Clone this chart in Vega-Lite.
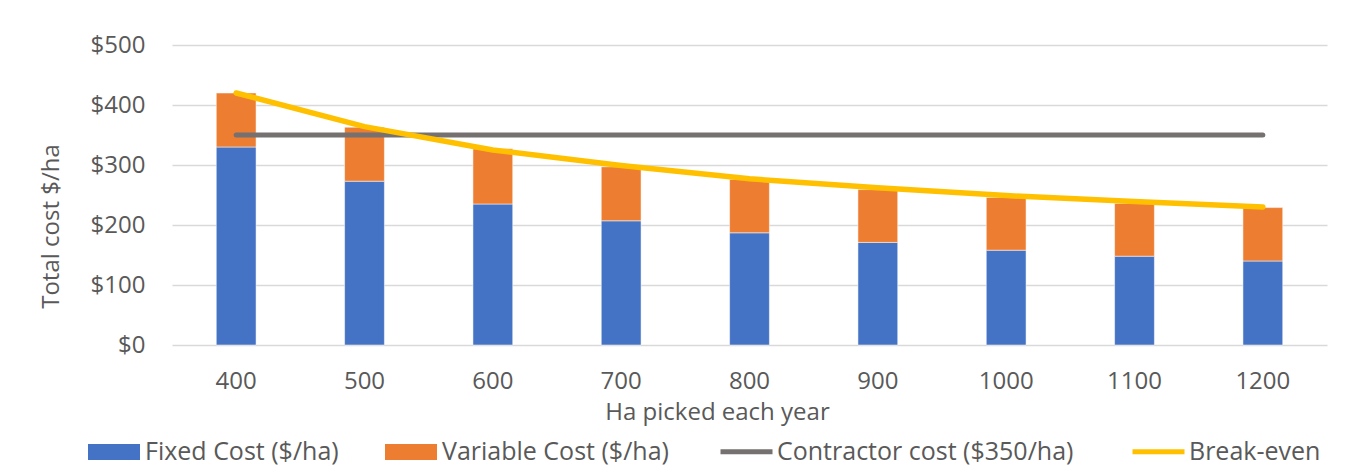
{
  "$schema": "https://vega.github.io/schema/vega-lite/v6.json",
  "width": 1155,
  "height": 300,
  "autosize": {"type": "none"},
  "padding": {"left": 172, "top": 45, "right": 43, "bottom": 131},
  "background": "white",
  "config": {
    "view": {"stroke": null},
    "font": "Open Sans",
    "axis": {
      "labelFont": "Open Sans",
      "titleFont": "Open Sans",
      "labelFontSize": 24,
      "titleFontSize": 24,
      "labelColor": "#595959",
      "titleColor": "#595959",
      "titleFontWeight": "normal",
      "ticks": false,
      "domain": false
    },
    "legend": {
      "labelFont": "Open Sans",
      "labelFontSize": 25,
      "labelColor": "#595959",
      "labelLimit": 0,
      "labelOffset": 5,
      "padding": 0,
      "orient": "none",
      "direction": "horizontal"
    }
  },
  "datasets": {
    "costs": [
      {"ha": 400, "component": "Fixed Cost ($/ha)", "cost": 330},
      {"ha": 400, "component": "Variable Cost ($/ha)", "cost": 90},
      {"ha": 500, "component": "Fixed Cost ($/ha)", "cost": 273},
      {"ha": 500, "component": "Variable Cost ($/ha)", "cost": 90},
      {"ha": 600, "component": "Fixed Cost ($/ha)", "cost": 235},
      {"ha": 600, "component": "Variable Cost ($/ha)", "cost": 92},
      {"ha": 700, "component": "Fixed Cost ($/ha)", "cost": 207},
      {"ha": 700, "component": "Variable Cost ($/ha)", "cost": 90},
      {"ha": 800, "component": "Fixed Cost ($/ha)", "cost": 187},
      {"ha": 800, "component": "Variable Cost ($/ha)", "cost": 89},
      {"ha": 900, "component": "Fixed Cost ($/ha)", "cost": 171},
      {"ha": 900, "component": "Variable Cost ($/ha)", "cost": 88},
      {"ha": 1000, "component": "Fixed Cost ($/ha)", "cost": 158},
      {"ha": 1000, "component": "Variable Cost ($/ha)", "cost": 88},
      {"ha": 1100, "component": "Fixed Cost ($/ha)", "cost": 148},
      {"ha": 1100, "component": "Variable Cost ($/ha)", "cost": 88},
      {"ha": 1200, "component": "Fixed Cost ($/ha)", "cost": 140},
      {"ha": 1200, "component": "Variable Cost ($/ha)", "cost": 89}
    ],
    "lines": [
      {"ha": 400, "series": "Contractor cost ($350/ha)", "value": 350},
      {"ha": 500, "series": "Contractor cost ($350/ha)", "value": 350},
      {"ha": 600, "series": "Contractor cost ($350/ha)", "value": 350},
      {"ha": 700, "series": "Contractor cost ($350/ha)", "value": 350},
      {"ha": 800, "series": "Contractor cost ($350/ha)", "value": 350},
      {"ha": 900, "series": "Contractor cost ($350/ha)", "value": 350},
      {"ha": 1000, "series": "Contractor cost ($350/ha)", "value": 350},
      {"ha": 1100, "series": "Contractor cost ($350/ha)", "value": 350},
      {"ha": 1200, "series": "Contractor cost ($350/ha)", "value": 350},
      {"ha": 400, "series": "Break-even", "value": 420},
      {"ha": 500, "series": "Break-even", "value": 364},
      {"ha": 600, "series": "Break-even", "value": 325},
      {"ha": 700, "series": "Break-even", "value": 299},
      {"ha": 800, "series": "Break-even", "value": 277},
      {"ha": 900, "series": "Break-even", "value": 262},
      {"ha": 1000, "series": "Break-even", "value": 249},
      {"ha": 1100, "series": "Break-even", "value": 239},
      {"ha": 1200, "series": "Break-even", "value": 230}
    ]
  },
  "layer": [
    {
      "data": {"name": "costs"},
      "mark": {"type": "bar", "stroke": "#ffffff", "strokeWidth": 1, "strokeOpacity": 0.5},
      "encoding": {
        "x": {
          "field": "ha",
          "type": "ordinal",
          "scale": {"paddingInner": 0.69, "paddingOuter": 0.345},
          "title": "Ha picked each year",
          "axis": {
            "labelAngle": 0,
            "labelBaseline": "middle",
            "labelPadding": 36,
            "titleX": 545,
            "titleY": 67,
            "titleBaseline": "middle",
            "titleAlign": "center",
            "titleAnchor": null
          }
        },
        "y": {
          "field": "cost",
          "type": "quantitative",
          "stack": "zero",
          "scale": {"domain": [0, 500]},
          "title": "Total cost $/ha",
          "axis": {
            "values": [0, 100, 200, 300, 400, 500],
            "format": "$.0f",
            "labelPadding": 27,
            "gridColor": "#D9D9D9",
            "gridWidth": 1.3,
            "titleX": -121,
            "titleY": 181,
            "titleBaseline": "middle",
            "titleAlign": "center",
            "titleAnchor": null
          }
        },
        "color": {
          "field": "component",
          "type": "nominal",
          "scale": {
            "domain": ["Fixed Cost ($/ha)", "Variable Cost ($/ha)"],
            "range": ["#4472C4", "#ED7D31"]
          },
          "legend": {
            "title": null,
            "legendX": -84,
            "legendY": 381,
            "columnPadding": 46,
            "symbolType": "M-1,-0.31H1V0.31H-1Z",
            "symbolSize": 2704,
            "symbolStrokeWidth": 0
          }
        },
        "order": {"field": "component", "sort": "ascending"}
      }
    },
    {
      "data": {"name": "lines"},
      "transform": [{"filter": "datum.series === 'Contractor cost ($350/ha)'"}],
      "mark": {"type": "line", "strokeWidth": 5, "strokeCap": "round", "strokeJoin": "round"},
      "encoding": {
        "x": {"field": "ha", "type": "ordinal"},
        "y": {"field": "value", "type": "quantitative"},
        "stroke": {
          "field": "series",
          "type": "nominal",
          "scale": {
            "domain": ["Contractor cost ($350/ha)", "Break-even"],
            "range": ["#767171", "#FFC000"]
          },
          "legend": {
            "title": null,
            "legendX": 546,
            "legendY": 378,
            "columnPadding": 48,
            "labelOffset": 2,
            "symbolType": "stroke",
            "symbolSize": 2704,
            "symbolStrokeWidth": 5
          }
        }
      }
    },
    {
      "data": {"name": "lines"},
      "transform": [{"filter": "datum.series === 'Break-even'"}],
      "mark": {"type": "line", "strokeWidth": 5.5, "strokeCap": "round", "strokeJoin": "round"},
      "encoding": {
        "x": {"field": "ha", "type": "ordinal"},
        "y": {"field": "value", "type": "quantitative"},
        "stroke": {"field": "series", "type": "nominal"}
      }
    }
  ]
}
